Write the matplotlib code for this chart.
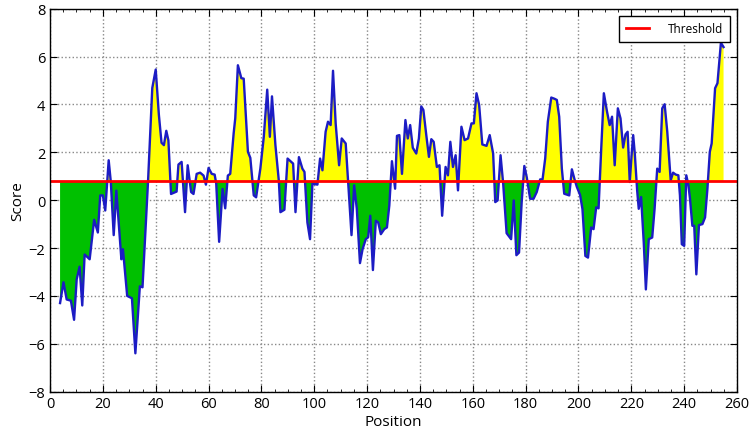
import numpy as np
import matplotlib
matplotlib.use("Agg")
import matplotlib.pyplot as plt
from matplotlib.ticker import MultipleLocator

threshold = 0.8

# positions / scores
position = [3.8, 5.1, 6.3, 7.9, 9.1, 10.1, 11.2, 12.2, 13.1, 15.0, 16.7, 18.1, 19.0, 20.0,
            20.9, 22.2, 23.0, 24.1, 25.1, 27.0, 27.6, 29.2, 31.0, 32.3, 34.0, 35.0, 37.1,
            38.7, 40.0, 41.2, 42.2, 43.1, 44.0, 44.8, 45.8, 47.9, 48.6, 49.8, 51.1, 52.1,
            53.4, 54.3, 55.5, 56.8, 58.1, 59.0, 60.0, 61.2, 62.3, 62.9, 64.0, 65.3, 66.3,
            67.3, 68.2, 69.5, 70.1, 71.1, 72.4, 73.3, 74.9, 75.8, 77.1, 78.0, 79.6, 80.9,
            82.2, 83.2, 84.0, 85.3, 86.6, 87.2, 88.7, 89.9, 92.0, 92.9, 94.2, 95.5, 96.3,
            97.4, 98.4, 99.3, 101.2, 102.2, 103.1, 104.3, 105.2, 106.2, 107.1, 108.1, 109.4,
            110.4, 111.9, 112.8, 114.1, 115.1, 116.1, 117.3, 118.3, 119.5, 120.4, 121.2,
            122.2, 123.3, 124.2, 125.2, 126.5, 127.5, 128.4, 129.4, 130.6, 131.3, 132.2,
            133.2, 134.5, 135.4, 136.3, 137.3, 138.6, 139.6, 140.5, 141.3, 142.4, 143.4,
            144.3, 145.2, 146.4, 147.4, 148.4, 149.7, 150.6, 151.5, 152.5, 153.5, 154.4,
            155.7, 156.9, 158.2, 159.5, 160.4, 161.4, 162.4, 163.6, 165.2, 166.4, 167.7,
            168.5, 169.4, 170.5, 171.5, 172.8, 174.5, 175.5, 176.5, 177.5, 178.5, 179.5,
            180.4, 181.7, 183.0, 184.2, 185.5, 186.4, 187.4, 188.4, 189.7, 190.9, 191.8,
            192.7, 193.7, 194.6, 196.5, 197.5, 198.5, 199.4, 200.6, 201.5, 202.6, 203.6,
            204.8, 205.7, 206.7, 207.6, 208.6, 209.6, 210.8, 211.8, 212.7, 213.7, 214.9,
            215.9, 216.9, 217.8, 218.6, 219.4, 220.1, 220.7, 221.3, 222.2, 222.8, 223.7,
            224.7, 225.5, 226.6, 227.9, 228.8, 229.8, 230.7, 231.7, 232.6, 233.6, 234.9,
            235.8, 236.8, 237.8, 238.4, 239.1, 240.0, 240.8, 241.6, 242.2, 243.1, 243.8,
            244.6, 245.6, 246.9, 247.9, 248.8, 249.7, 250.4, 251.7, 252.6, 253.9, 254.9]
score = [-4.3, -3.43, -4.15, -4.2, -5.0, -3.3, -2.78, -4.4, -2.27, -2.47, -0.82, -1.35, 0.2, 0.2,
         -0.43, 1.67, 0.77, -1.46, 0.4, -2.47, -2.05, -4.0, -4.1, -6.4, -3.6, -3.64, 0.8,
         4.69, 5.46, 3.56, 2.4, 2.3, 2.9, 2.5, 0.26, 0.36, 1.49, 1.6, -0.5, 1.46,
         0.34, 0.26, 1.1, 1.15, 1.03, 0.65, 1.35, 1.1, 1.07, 0.69, -1.74, 0.47, -0.34,
         1.03, 1.1, 2.8, 3.42, 5.64, 5.1, 5.08, 2.02, 1.77, 0.2, 0.12, 1.32, 2.65,
         4.62, 2.65, 4.34, 2.3, 0.8, -0.5, -0.4, 1.74, 1.53, -0.5, 1.8, 1.32, 1.18,
         -0.93, -1.63, 0.69, 0.65, 1.74, 1.25, 2.86, 3.28, 3.14, 5.41, 3.21, 1.46,
         2.58, 2.37, 0.83, -1.46, 0.62, -0.36, -2.63, -2.04, -1.63, -1.55, -0.65,
         -2.92, -0.86, -0.93, -1.42, -1.21, -1.14, -0.23, 1.63, 0.48, 2.69, 2.72,
         1.1, 3.35, 2.58, 3.14, 2.19, 1.95, 2.58, 3.92, 3.77, 2.72, 1.81,
         2.55, 2.44, 1.39, 1.46, -0.65, 1.39, 1.04, 2.44, 1.39, 1.88, 0.41,
         3.07, 2.51, 2.58, 3.21, 3.21, 4.47, 3.98, 2.33, 2.27, 2.72, 1.95,
         -0.08, -0.01, 1.88, 0.69, -1.38, -1.63, -0.01, -2.3, -2.19, -0.08, 1.43,
         0.97, 0.06, 0.06, 0.34, 0.87, 0.87, 1.74, 3.28, 4.29, 4.24, 4.19,
         3.49, 1.32, 0.27, 0.2, 1.29, 0.87, 0.55, 0.22, -0.37, -2.33, -2.4,
         -1.14, -1.21, -0.3, -0.34, 2.14, 4.47, 3.7, 3.14, 3.49, 1.46, 3.84,
         3.42, 2.2, 2.75, 2.86, 0.76, 1.88, 2.72, 1.96, 0.41, -0.36, 0.13,
         -1.77, -3.73, -1.63, -1.56, -0.36, 1.32, 1.18, 3.84, 4.01, 2.86, 0.83,
         1.15, 1.07, 1.04, 0.2, -1.84, -1.91, 1.04, 0.62, 0.06, -1.07, -1.07,
         -3.1, -1.04, -1.0, -0.72, 0.48, 2.02, 2.37, 4.68, 4.89, 6.58, 6.4]

x = np.array(position)
y = np.array(score)

plt.rcParams['font.family'] = ['Open Sans', 'DejaVu Sans']
fig = plt.figure(figsize=(7.5, 4.35), dpi=100)
ax = fig.add_axes([0.0667, 0.0975, 0.916, 0.88])

ax.fill_between(x, y, threshold, where=y >= threshold, interpolate=True,
                color='#ffff00', linewidth=0)
ax.fill_between(x, y, threshold, where=y <= threshold, interpolate=True,
                color='#00c000', linewidth=0)
ax.plot(x, y, color='#1c1cc4', linewidth=1.7)
ax.axhline(threshold, color='#ff0000', linewidth=2, label='Threshold')

ax.set_xlim(0, 260)
ax.set_ylim(-8, 8)
ax.xaxis.set_major_locator(MultipleLocator(20))
ax.xaxis.set_minor_locator(MultipleLocator(5))
ax.yaxis.set_major_locator(MultipleLocator(2))
ax.tick_params(which='both', direction='in', top=True, right=True, labelsize=10.5)
ax.tick_params(which='major', length=5)
ax.tick_params(which='minor', length=2.5)
ax.grid(True, which='major', linestyle=':', color='#888888', linewidth=1)
ax.set_axisbelow(True)
for s in ax.spines.values():
    s.set_color('black')
    s.set_linewidth(1)

ax.set_xlabel('Position', fontsize=11, labelpad=2)
ax.set_ylabel('Score', fontsize=11, labelpad=2)

leg = ax.legend(loc='upper right', fontsize=8.5, fancybox=False, framealpha=1,
                edgecolor='black', handlelength=2.0, handletextpad=1.6,
                borderpad=0.55, borderaxespad=0.6)
leg.get_frame().set_linewidth(1)

fig.savefig('out.png', dpi=100)
